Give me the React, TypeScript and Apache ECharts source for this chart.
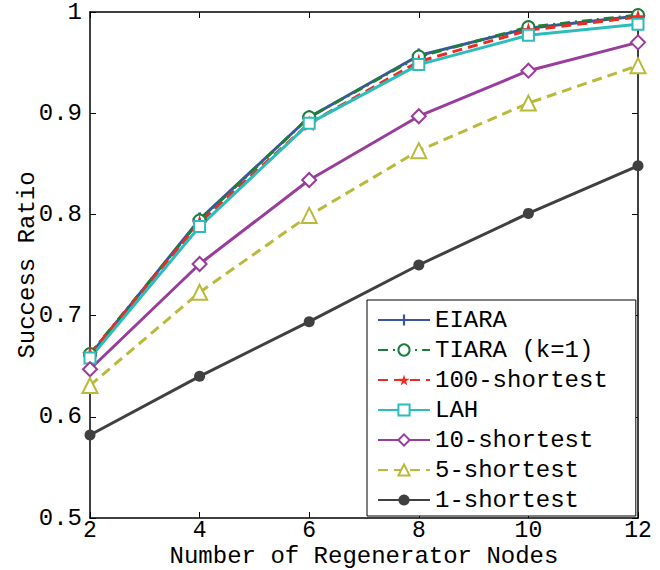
import React, { useEffect, useRef } from "react";
import * as echarts from "echarts";

const xValues = [2, 4, 6, 8, 10, 12];
const eiara = [0.661, 0.795, 0.896, 0.957, 0.984, 0.996];
const tiara = [0.662, 0.794, 0.896, 0.956, 0.985, 0.997];
const shortest100 = [0.662, 0.792, 0.890, 0.951, 0.982, 0.995];
const lah = [0.658, 0.788, 0.890, 0.948, 0.977, 0.988];
const shortest10 = [0.647, 0.751, 0.834, 0.897, 0.942, 0.970];
const shortest5 = [0.631, 0.723, 0.799, 0.863, 0.910, 0.947];
const shortest1 = [0.582, 0.640, 0.694, 0.750, 0.801, 0.848];
const seriesNames = ["EIARA", "TIARA (k=1)", "100-shortest", "LAH", "10-shortest", "5-shortest", "1-shortest"];
const yTicks = [0.5, 0.6, 0.7, 0.8, 0.9, 1];

const FONT = "Liberation Mono";
const FS = 24;
const PLUS = "path://M4,0h2v4h4v2h-4v4h-2v-4h-4v-2h4z";
const STAR = "path://M50,0 L61,35 L98,35 L68,57 L79,91 L50,70 L21,91 L32,57 L2,35 L39,35 Z";

export default function App() {
  const ref = useRef<HTMLDivElement>(null);
  useEffect(() => {
    const chart = echarts.init(ref.current!, null, { renderer: "svg" });
    const mk = (name: string, vals: number[], color: string, symbol: string, size: number, lineType: any, empty = false) => ({
      name,
      type: "line",
      data: xValues.map((x, i) => [x, vals[i]]),
      symbol,
      symbolSize: size,
      showAllSymbol: true,
      lineStyle: { color, width: 3, type: lineType },
      itemStyle: { color, borderColor: color, borderWidth: empty ? 3 : 0 },
      emphasis: { disabled: true },
    });
    const axisLine = { show: true, lineStyle: { color: "#000", width: 1.5 } };
    const tick = { inside: true, length: 6, lineStyle: { color: "#000" } };
    chart.setOption({
      animation: false,
      backgroundColor: "#fff",
      grid: { left: 90, top: 12, width: 548, height: 506, outerBoundsMode: "none", containLabel: false },
      xAxis: [
        {
          type: "value", min: 2, max: 12, interval: 2,
          axisLine, axisTick: tick,
          splitLine: { show: false },
          axisLabel: { color: "#000", fontFamily: FONT, fontSize: 23, lineHeight: 22, margin: 2 },
          name: "Number of Regenerator Nodes", nameLocation: "middle", nameGap: 26,
          nameMoveOverlap: false,
          nameTextStyle: { color: "#000", fontFamily: FONT, fontSize: FS, lineHeight: 24 },
        },
        {
          type: "value", position: "top", min: 2, max: 12, interval: 2,
          axisLine, axisTick: tick,
          splitLine: { show: false }, axisLabel: { show: false },
        },
      ],
      yAxis: [
        {
          type: "value", min: 0.5, max: 1, interval: 0.1,
          axisLine, axisTick: tick,
          splitLine: { show: false },
          axisLabel: {
            color: "#000", fontFamily: FONT, fontSize: FS, margin: 8,
            formatter: (v: number) => {
              const t = yTicks.find((y) => Math.abs(y - v) < 1e-6);
              return t === 1 ? "1" : (t ?? v).toFixed(1);
            },
          },
          name: "Success Ratio", nameLocation: "middle", nameGap: 51,
          nameMoveOverlap: false,
          nameTextStyle: { color: "#000", fontFamily: FONT, fontSize: FS },
        },
        {
          type: "value", position: "right", min: 0.5, max: 1, interval: 0.1,
          axisLine, axisTick: tick,
          splitLine: { show: false }, axisLabel: { show: false },
        },
      ],
      legend: {
        orient: "vertical", left: 367, top: 300,
        data: seriesNames,
        itemWidth: 52, itemHeight: 14, itemGap: 6,
        padding: [8, 28, 4, 10],
        backgroundColor: "#fff", borderColor: "#000", borderWidth: 1,
        textStyle: { color: "#000", fontFamily: FONT, fontSize: FS },
        selectedMode: false,
      },
      series: [
        mk(seriesNames[0], eiara, "#3b54a3", PLUS, 14, "solid"),
        mk(seriesNames[1], tiara, "#1b7f3b", "emptyCircle", 12, [10, 5, 2, 5], true),
        mk(seriesNames[2], shortest100, "#ee2a24", STAR, 16, [10, 6]),
        mk(seriesNames[3], lah, "#2cbcbc", "emptyRect", 11, "solid", true),
        mk(seriesNames[4], shortest10, "#993d9d", "emptyDiamond", 14, "solid", true),
        mk(seriesNames[5], shortest5, "#b9b93a", "emptyTriangle", 15, [10, 6], true),
        mk(seriesNames[6], shortest1, "#404040", "circle", 11, "solid"),
      ],
    });
    return () => chart.dispose();
  }, []);
  return <div ref={ref} style={{ position: "fixed", left: 0, top: 0, width: 660, height: 570 }} />;
}
